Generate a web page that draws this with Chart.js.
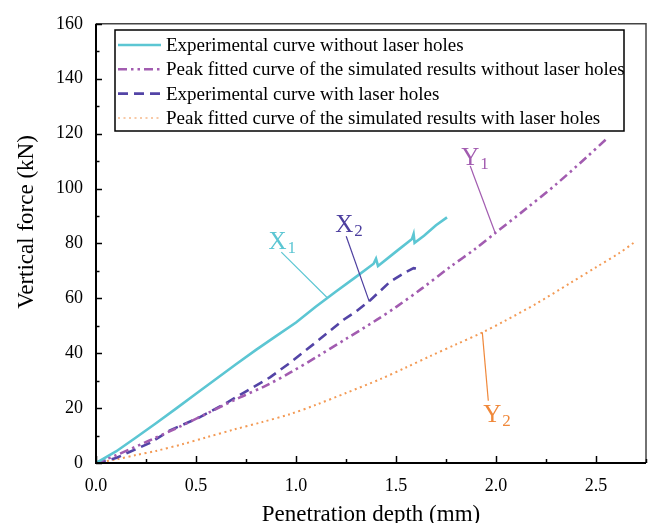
<!DOCTYPE html>
<html><head><meta charset="utf-8">
<script src="https://cdn.jsdelivr.net/npm/chart.js@4.4.1/dist/chart.umd.min.js"></script>
<style>html,body{margin:0;padding:0;background:#fff}</style>
</head><body>
<canvas id="c" width="652" height="523"></canvas>
<script>
// ---- data (Penetration depth in mm, Vertical force in kN) ----
const seriesNames = [
  "Experimental curve without laser holes",
  "Peak fitted curve of the simulated results without laser holes",
  "Experimental curve with laser holes",
  "Peak fitted curve of the simulated results with laser holes"
];
const expNoHolesX = [0,0.1,0.2,0.3,0.4,0.5,0.6,0.7,0.8,0.9,1.0,1.1,1.2,1.3,1.388,1.40,1.41,1.5,1.58,1.588,1.593,1.64,1.7,1.755];
const expNoHolesY = [0,4.2,9.3,14.5,19.8,25.2,30.6,36.0,41.2,46.2,51.2,57.0,62.5,67.8,72.6,74.4,71.8,77.0,81.6,83.4,80.2,82.8,86.6,89.5];
const simNoHolesX = [0,0.1,0.27,0.4,0.52,0.72,0.85,0.97,1.1,1.25,1.405,1.5,1.63,1.77,1.9,1.995,2.15,2.3,2.45,2.556];
const simNoHolesY = [0,2.8,8.3,12.6,16.8,23.9,28.2,32.9,38.5,45.2,52.2,56.8,63.6,71.4,78.2,83.7,92.6,101.5,111.2,118.3];
const expHolesX = [0,0.1,0.17,0.27,0.37,0.52,0.65,0.755,0.87,0.97,1.1,1.238,1.3,1.37,1.47,1.55,1.588,1.62];
const expHolesY = [0,1.8,4.1,7.3,11.9,16.7,21.8,26.3,31.2,36.5,44.0,52.2,55.2,59.2,66.0,69.6,71.0,70.6];
const simHolesX = [0,0.1,0.2,0.3,0.44,0.55,0.69,0.83,0.97,1.1,1.25,1.42,1.55,1.67,1.8,1.93,2.04,2.2,2.37,2.5,2.615,2.69];
const simHolesY = [0,1.3,2.9,4.4,7.0,9.3,12.2,14.9,17.8,21.2,25.5,30.5,34.8,38.9,43.2,47.5,51.6,58.0,65.5,71.3,76.4,80.3];
const xTickStep = 0.5, yTickStep = 20;
const xMax = 2.75, yMax = 160;
// annotation labels: [text, subscript, colour, label anchor (x,y), leader from (x,y), leader to (x,y)]
const annotations = [
  ["X","1","#5cc6d3",[0.862,77.9],[0.9265,76.8],[1.1565,60.2]],
  ["X","2","#4d3f9f",[1.1965,84.0],[1.251,82.6],[1.3665,58.8]],
  ["Y","1","#a25cb0",[1.8265,108.5],[1.871,108.2],[1.9965,83.7]],
  ["Y","2","#f0883a",[1.9365,15.1],[1.9315,47.6],[1.9615,22.7]]
];

const pts = (xs, ys) => xs.map((x, i) => ({x, y: ys[i]}));
const SERIF = '"Liberation Serif","Times New Roman",serif';

const datasets = [
  {label: seriesNames[0], data: pts(expNoHolesX, expNoHolesY), borderColor:'#5cc6d3', borderWidth:2.6, borderDash:[], legendColor:'#5cc6d3', tension:0},
  {label: seriesNames[1], data: pts(simNoHolesX, simNoHolesY), borderColor:'#a25cb0', borderWidth:2.6, borderDash:[9,4,2.5,4,2.5,4], legendColor:'#a25cb0', tension:0.3},
  {label: seriesNames[2], data: pts(expHolesX, expHolesY), borderColor:'#5344a6', borderWidth:2.6, borderDash:[10,6], legendColor:'#5344a6', tension:0},
  {label: seriesNames[3], data: pts(simHolesX, simHolesY), borderColor:'#f39a55', borderWidth:2, borderDash:[2,3.5], legendColor:'#f8c9a6', tension:0.3}
].map(d => Object.assign(d, {pointRadius:0, fill:false}));

const decor = {
  id: 'decor',
  afterDraw(chart) {
    const {ctx, chartArea: a, scales: {x, y}} = chart;
    ctx.save();
    // frame
    ctx.strokeStyle = '#444'; ctx.lineWidth = 1.5;
    ctx.beginPath(); ctx.moveTo(a.left, a.top); ctx.lineTo(a.right, a.top); ctx.lineTo(a.right, a.bottom); ctx.stroke();
    ctx.strokeStyle = '#000'; ctx.lineWidth = 2;
    ctx.beginPath(); ctx.moveTo(a.left, a.top); ctx.lineTo(a.left, a.bottom); ctx.lineTo(a.right, a.bottom); ctx.stroke();
    // inward ticks
    ctx.lineWidth = 1.5;
    for (let v = 0; v <= yMax + 1e-9; v += yTickStep / 2) {
      const py = Math.round(y.getPixelForValue(v)) + 0.5;
      const len = (Math.abs(v % yTickStep) < 1e-6) ? 6 : 3.5;
      ctx.beginPath(); ctx.moveTo(a.left, py); ctx.lineTo(a.left + len, py); ctx.stroke();
    }
    for (let v = 0; v <= xMax + 1e-9; v += xTickStep / 2) {
      const px = Math.round(x.getPixelForValue(v)) + 0.5;
      const r = v / xTickStep;
      const len = (Math.abs(r - Math.round(r)) < 1e-6) ? 7 : 4;
      ctx.beginPath(); ctx.moveTo(px, a.bottom); ctx.lineTo(px, a.bottom - len); ctx.stroke();
    }
    // y-axis title
    ctx.fillStyle = '#000';
    ctx.font = '23px ' + SERIF;
    ctx.textAlign = 'center'; ctx.textBaseline = 'middle';
    ctx.save(); ctx.translate(27, 222); ctx.rotate(-Math.PI / 2); ctx.fillText('Vertical force (kN)', 0, 0); ctx.restore();
    // legend
    const lx = 115, ly = 30, lw = 509, lh = 101;
    ctx.fillStyle = '#fff'; ctx.fillRect(lx, ly, lw, lh);
    ctx.strokeStyle = '#000'; ctx.lineWidth = 1.5; ctx.strokeRect(lx, ly, lw, lh);
    ctx.font = '19px ' + SERIF; ctx.textAlign = 'left'; ctx.textBaseline = 'middle';
    chart.data.datasets.forEach((d, i) => {
      const ry = ly + 15 + i * 24.3;
      ctx.strokeStyle = d.legendColor; ctx.lineWidth = d.borderWidth; ctx.setLineDash(d.borderDash);
      ctx.beginPath(); ctx.moveTo(lx + 3, ry); ctx.lineTo(lx + 46, ry); ctx.stroke();
      ctx.setLineDash([]);
      ctx.fillStyle = '#000'; ctx.fillText(d.label, lx + 51, ry + 1);
    });
    // annotations
    annotations.forEach(([t, sub, col, lab, p0, p1]) => {
      ctx.strokeStyle = col; ctx.lineWidth = 1.2;
      ctx.beginPath();
      ctx.moveTo(x.getPixelForValue(p0[0]), y.getPixelForValue(p0[1]));
      ctx.lineTo(x.getPixelForValue(p1[0]), y.getPixelForValue(p1[1]));
      ctx.stroke();
      const bx = x.getPixelForValue(lab[0]), by = y.getPixelForValue(lab[1]);
      ctx.fillStyle = col; ctx.textBaseline = 'alphabetic'; ctx.textAlign = 'left';
      ctx.font = '25px ' + SERIF; ctx.fillText(t, bx, by);
      const w = ctx.measureText(t).width;
      ctx.font = '17px ' + SERIF; ctx.fillText(sub, bx + w + 1, by + 4);
    });
    ctx.restore();
  }
};

new Chart(document.getElementById('c'), {
  type: 'line',
  data: {datasets},
  options: {
    responsive: false, animation: false, devicePixelRatio: 1,
    layout: {padding: {top: 19, right: 6, left: 0, bottom: 0}},
    plugins: {legend: {display: false}, tooltip: {enabled: false}},
    scales: {
      x: {
        type: 'linear', min: 0, max: xMax,
        grid: {display: false, drawTicks: false}, border: {display: false},
        ticks: {stepSize: xTickStep, includeBounds: false, padding: 12, color: '#000',
                font: {family: SERIF, size: 18}, callback: v => v.toFixed(1), maxRotation: 0},
        title: {display: true, text: 'Penetration depth (mm)', color: '#000',
                font: {family: SERIF, size: 23}, padding: {top: 0, bottom: -6}},
        afterFit: s => { s.height = 60; }
      },
      y: {
        type: 'linear', min: 0, max: yMax,
        grid: {display: false, drawTicks: false}, border: {display: false},
        ticks: {stepSize: yTickStep, padding: 13, color: '#000', font: {family: SERIF, size: 18}},
        afterFit: s => { s.width = 96; }
      }
    }
  },
  plugins: [decor]
});
</script>
</body></html>
